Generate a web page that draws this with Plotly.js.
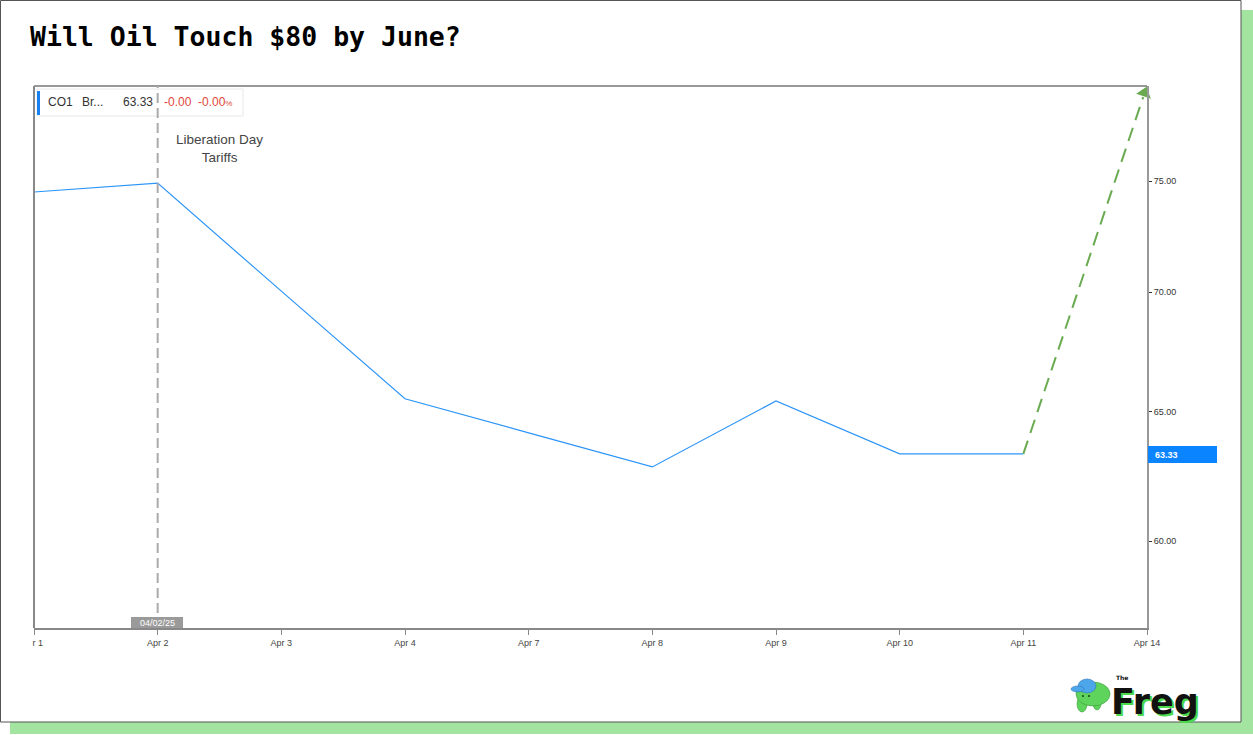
<!DOCTYPE html>
<html>
<head>
<meta charset="utf-8">
<script src="https://cdn.plot.ly/plotly-3.0.1.min.js"></script>
<style>
html,body{margin:0;padding:0;background:#fff;}
#chart{width:1253px;height:735px;}
</style>
</head>
<body>
<div id="chart"></div>
<script>
// ---- data ----
const dates = ['Apr 1','Apr 2','Apr 3','Apr 4','Apr 7','Apr 8','Apr 9','Apr 10','Apr 11','Apr 14'];
const tickLabels = ['\u00a0\u00a0\u00a0r 1','Apr 2','Apr 3','Apr 4','Apr 7','Apr 8','Apr 9','Apr 10','Apr 11','Apr 14'];
const brent = [74.49, 74.90, 70.05, 65.53, 64.16, 62.82, 65.44, 63.33, 63.33, null];
const projDates = [8, 8.98];          // index positions: Apr 11 -> just before Apr 14
const projValues = [63.33, 79.2];
const yTicks = [60, 65, 70, 75];
const yTickText = ['60.00','65.00','70.00','75.00'];
const lastPrice = '63.33';
const eventIndex = 1;                 // Apr 2
const eventLabel = 'Liberation Day<br>Tariffs';
const eventDate = '04/02/25';

// ---- layout helpers (pixel -> paper) ----
const W = 1253, H = 735;
const L = 34, R = 1147, T = 86, B = 628;
const px = x => (x - L) / (R - L);
const py = y => (B - y) / (B - T);

const idx = dates.map((d, i) => i);
const sans = 'Liberation Sans, Arial, sans-serif';

const traces = [
  {
    x: idx, y: brent, type: 'scatter', mode: 'lines',
    line: {color: '#2d95f7', width: 1.2},
    hoverinfo: 'skip', showlegend: false
  },
  {
    x: projDates, y: projValues, type: 'scatter', mode: 'lines+markers',
    line: {color: '#6aab52', width: 2, dash: '14px,8px'},
    marker: {symbol: ['circle', 'triangle-up'], size: [1, 15], opacity: [0, 1],
             color: '#6aab52', angleref: 'previous'},
    hoverinfo: 'skip', showlegend: false, cliponaxis: false
  }
];

const shapes = [
  // green shadow
  {type: 'rect', xref: 'paper', yref: 'paper', x0: px(10), x1: px(1253), y0: py(734), y1: py(10),
   fillcolor: '#a3e4a0', line: {width: 0}, layer: 'below'},
  // white card
  {type: 'rect', xref: 'paper', yref: 'paper', x0: px(0.5), x1: px(1241), y0: py(722), y1: py(0.5),
   fillcolor: '#ffffff', line: {color: '#555', width: 1}, layer: 'below'},
  // top border
  {type: 'line', xref: 'paper', yref: 'paper', x0: px(34), x1: px(1147), y0: 1, y1: 1,
   line: {color: '#333', width: 1}},
  // left border
  {type: 'line', xref: 'paper', yref: 'paper', x0: 0, x1: 0, y0: 0, y1: 1,
   line: {color: '#888', width: 2}},
  // legend box
  {type: 'rect', xref: 'paper', yref: 'paper', x0: px(37), x1: px(243), y0: py(116), y1: py(89),
   fillcolor: '#ffffff', line: {color: '#e8e8e8', width: 1}},
  {type: 'rect', xref: 'paper', yref: 'paper', x0: px(37), x1: px(40), y0: py(115), y1: py(91),
   fillcolor: '#1a7ff0', line: {width: 0}},
  // event vertical line
  {type: 'line', xref: 'x', yref: 'paper', x0: eventIndex, x1: eventIndex, y0: 0, y1: 1,
   line: {color: '#aaaaaa', width: 2, dash: '10px,5px'}},
  // event date box
  {type: 'rect', xref: 'paper', yref: 'paper', x0: px(131), x1: px(183), y0: py(628), y1: py(617),
   fillcolor: '#9a9a9a', line: {width: 0}},
  // last price box
  {type: 'rect', xref: 'paper', yref: 'paper', x0: px(1148), x1: px(1217), y0: py(463), y1: py(446),
   fillcolor: '#0a84ff', line: {width: 0}},
  // logo creature: legs
  {type: 'circle', xref: 'paper', yref: 'paper', x0: px(1077), x1: px(1087), y0: py(712), y1: py(696),
   fillcolor: '#5fd45c', line: {color: '#2e8a2e', width: 0.5}},
  {type: 'circle', xref: 'paper', yref: 'paper', x0: px(1093), x1: px(1101), y0: py(710), y1: py(696),
   fillcolor: '#5fd45c', line: {color: '#2e8a2e', width: 0.5}},
  // body
  {type: 'circle', xref: 'paper', yref: 'paper', x0: px(1076), x1: px(1110), y0: py(706), y1: py(682),
   fillcolor: '#5fd45c', line: {color: '#2e8a2e', width: 0.5}},
  // cap
  {type: 'circle', xref: 'paper', yref: 'paper', x0: px(1078), x1: px(1096), y0: py(693), y1: py(679),
   fillcolor: '#4ea6ea', line: {color: '#2a6fb0', width: 0.5}},
  {type: 'circle', xref: 'paper', yref: 'paper', x0: px(1071), x1: px(1084), y0: py(692), y1: py(686),
   fillcolor: '#4ea6ea', line: {color: '#2a6fb0', width: 0.5}},
  // eyes
  {type: 'circle', xref: 'paper', yref: 'paper', x0: px(1082), x1: px(1084), y0: py(697), y1: py(695),
   fillcolor: '#1d3d1d', line: {width: 0}},
  {type: 'circle', xref: 'paper', yref: 'paper', x0: px(1088), x1: px(1090), y0: py(697), y1: py(695),
   fillcolor: '#1d3d1d', line: {width: 0}}
];

const annotations = [
  // legend texts
  {xref: 'paper', yref: 'paper', x: px(46), y: py(102), xanchor: 'left', yanchor: 'middle', showarrow: false,
   text: 'CO1', font: {family: sans, size: 12, color: '#333'}},
  {xref: 'paper', yref: 'paper', x: px(80), y: py(102), xanchor: 'left', yanchor: 'middle', showarrow: false,
   text: 'Br...', font: {family: sans, size: 12, color: '#333'}},
  {xref: 'paper', yref: 'paper', x: px(155), y: py(102), xanchor: 'right', yanchor: 'middle', showarrow: false,
   text: lastPrice, font: {family: sans, size: 12, color: '#333'}},
  {xref: 'paper', yref: 'paper', x: px(162), y: py(102), xanchor: 'left', yanchor: 'middle', showarrow: false,
   text: '-0.00', font: {family: sans, size: 12, color: '#e0463a'}},
  {xref: 'paper', yref: 'paper', x: px(196), y: py(102), xanchor: 'left', yanchor: 'middle', showarrow: false,
   text: '-0.00<span style="font-size:8px">%</span>', font: {family: sans, size: 12, color: '#e0463a'}},
  // event label
  {xref: 'paper', yref: 'paper', x: px(219), y: py(148), xanchor: 'center', yanchor: 'middle', showarrow: false,
   text: eventLabel, font: {family: sans, size: 13.5, color: '#444'}},
  {xref: 'paper', yref: 'paper', x: px(157), y: py(622.5), xanchor: 'center', yanchor: 'middle', showarrow: false,
   text: eventDate, font: {family: sans, size: 9, color: '#ffffff'}},
  // last price label
  {xref: 'paper', yref: 'paper', x: px(1153), y: py(455), xanchor: 'left', yanchor: 'middle', showarrow: false,
   text: '<b>' + lastPrice + '</b>', font: {family: sans, size: 9, color: '#ffffff'}},
  // logo text
  {xref: 'paper', yref: 'paper', x: px(1111), y: py(704), xanchor: 'left', yanchor: 'middle', showarrow: false,
   text: '<b>Freg</b>', font: {family: 'DejaVu Sans, sans-serif', size: 35, color: '#4cd94c'}},
  {xref: 'paper', yref: 'paper', x: px(1109), y: py(702), xanchor: 'left', yanchor: 'middle', showarrow: false,
   text: '<b>Freg</b>', font: {family: 'DejaVu Sans, sans-serif', size: 35, color: '#111'}},
  {xref: 'paper', yref: 'paper', x: px(1114), y: py(677), xanchor: 'left', yanchor: 'middle', showarrow: false,
   text: '<b>The</b>', font: {family: 'DejaVu Sans, sans-serif', size: 6, color: '#111'}}
];

const layout = {
  width: W, height: H,
  margin: {l: L, r: W - R, t: T, b: H - B, pad: 0},
  paper_bgcolor: '#ffffff',
  plot_bgcolor: 'rgba(0,0,0,0)',
  title: {
    text: 'Will Oil Touch $80 by June?',
    x: 30 / W, xanchor: 'left', xref: 'container',
    y: 1 - 37 / H, yanchor: 'middle', yref: 'container',
    font: {family: 'DejaVu Sans Mono, monospace', size: 26.5, color: '#000', weight: 'bold'}
  },
  xaxis: {
    range: [0, 9], tickvals: idx, ticktext: tickLabels,
    ticks: 'outside', ticklen: 5, tickcolor: '#888', tickwidth: 1,
    showline: true, linecolor: '#888', linewidth: 2,
    showgrid: false, zeroline: false, fixedrange: true,
    tickfont: {family: sans, size: 9, color: '#444'}
  },
  yaxis: {
    type: 'log', side: 'right',
    range: [Math.log10(56.85), Math.log10(79.55)],
    tickvals: yTicks, ticktext: yTickText,
    ticks: 'outside', ticklen: 3, tickcolor: '#333', tickwidth: 1,
    showline: true, linecolor: '#999', linewidth: 2,
    showgrid: false, zeroline: false, fixedrange: true,
    tickfont: {family: sans, size: 9, color: '#333'}
  },
  shapes: shapes,
  annotations: annotations,
  showlegend: false
};

Plotly.newPlot('chart', traces, layout, {displayModeBar: false, staticPlot: true});
</script>
</body>
</html>
